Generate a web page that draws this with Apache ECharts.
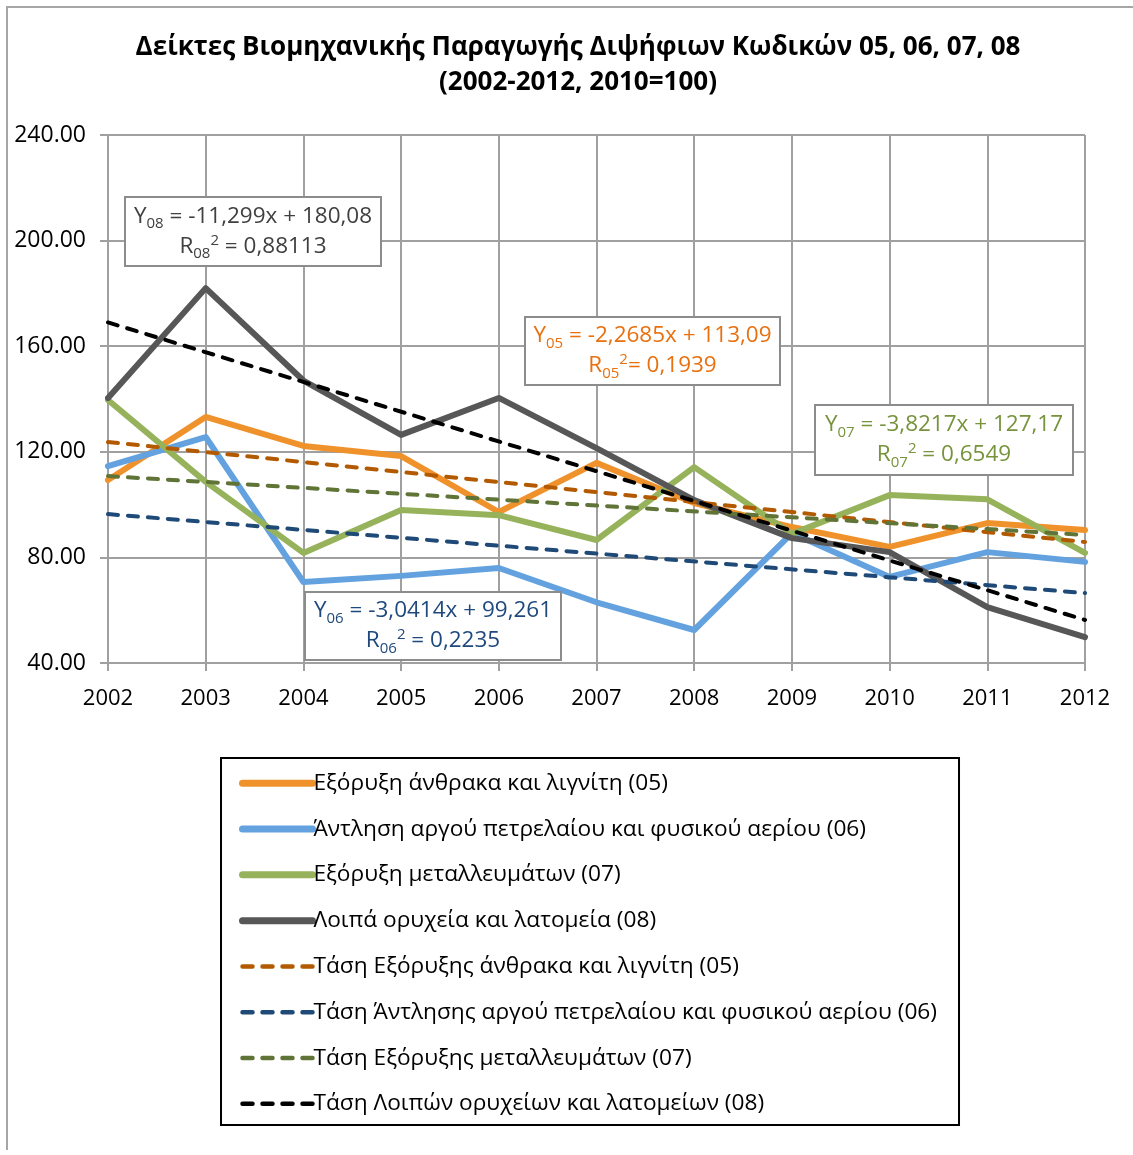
<!DOCTYPE html>
<html>
<head>
<meta charset="utf-8">
<script src="https://cdn.jsdelivr.net/npm/echarts@6/dist/echarts.min.js"></script>
<style>
  html, body { margin: 0; padding: 0; background: #fff; }
  #chart { width: 1133px; height: 1155px; }
</style>
</head>
<body>
<div id="chart"></div>
<script>
// έτη
var years = [2002, 2003, 2004, 2005, 2006, 2007, 2008, 2009, 2010, 2011, 2012];
// δείκτες (τιμές από το διάγραμμα)
var coal05  = [109.3, 133.2, 122.2, 118.4, 97.2, 115.8, 100.6, 91.5, 84.0, 93.0, 90.4];
var oil06   = [114.6, 125.6, 70.7, 73.0, 76.0, 63.0, 52.5, 89.2, 72.6, 82.0, 78.3];
var metal07 = [139.6, 108.6, 81.7, 98.0, 96.0, 86.6, 114.2, 88.9, 103.6, 102.0, 81.7];
var other08 = [140.4, 182.0, 147.0, 126.4, 140.4, 121.4, 101.7, 87.3, 82.0, 61.2, 49.8];
// γραμμές τάσης: τιμή στο 2002 και στο 2012
var trendYears = [2002, 2012];
var trend05 = [123.7, 85.8];
var trend06 = [96.4, 66.5];
var trend07 = [110.8, 88.5];
var trend08 = [169.0, 56.3];

var names = [
    'Εξόρυξη άνθρακα και λιγνίτη (05)',
    'Άντληση αργού πετρελαίου και φυσικού αερίου (06)',
    'Εξόρυξη μεταλλευμάτων (07)',
    'Λοιπά ορυχεία και λατομεία (08)',
    'Τάση Εξόρυξης άνθρακα και λιγνίτη (05)',
    'Τάση Άντλησης αργού πετρελαίου και φυσικού αερίου (06)',
    'Τάση Εξόρυξης μεταλλευμάτων (07)',
    'Τάση Λοιπών ορυχείων και λατομείων (08)'
];

var FONT = 'Open Sans';

function pairs(xs, ys) {
    return xs.map(function (x, i) { return [x, ys[i]]; });
}

function solid(name, data, color) {
    return {
        name: name, type: 'line', data: pairs(years, data),
        symbol: 'none', lineStyle: { color: color, width: 6, cap: 'round', join: 'round' },
        itemStyle: { color: color }, z: 2
    };
}
function dashed(name, data, color) {
    return {
        name: name, type: 'line', data: pairs(trendYears, data),
        symbol: 'none', lineStyle: { color: color, width: 4, type: [10, 10], cap: 'round' },
        itemStyle: { color: color }, z: 3
    };
}

// πλαίσιο εξίσωσης με δείκτες
function eqBox(x, y, w, h, color, l1, l2) {
    var m = { fontFamily: FONT, fontSize: 22.5, fill: color };
    var s = { fontFamily: FONT, fontSize: 15, fill: color, padding: [15, 0, 0, 0] };
    var p = { fontFamily: FONT, fontSize: 15, fill: color, padding: [0, 0, 12, 0] };
    return {
        type: 'group',
        children: [
            { type: 'rect', z: 100, shape: { x: x, y: y, width: w, height: h },
              style: { fill: '#fff', stroke: '#8c8c8c', lineWidth: 2 } },
            { type: 'text', z: 101, style: {
                x: x + w / 2, y: y + h / 2, text: l1 + '\n' + l2,
                align: 'center', verticalAlign: 'middle',
                fontFamily: FONT, fontSize: 22.5, fill: color,
                rich: { m: m, s: s, p: p } } }
        ]
    };
}

var chart = echarts.init(document.getElementById('chart'));
window.addEventListener('resize', function () { chart.resize(); });

var legendData = names.map(function (n, i) {
    return { name: n, lineStyle: i < 4 ? { width: 7 } : { width: 4.5 } };
});

var option = {
    backgroundColor: '#fff',
    animation: false,
    grid: { left: 108, right: 48, top: 135, bottom: 492 },
    xAxis: {
        type: 'value', min: 2002, max: 2012, interval: 1,
        axisLine: { show: true, lineStyle: { color: '#a0a0a0', width: 2 } },
        axisTick: { show: true, length: 8, lineStyle: { color: '#a0a0a0', width: 2 } },
        splitLine: { show: true, lineStyle: { color: '#a0a0a0', width: 2 } },
        axisLabel: { fontFamily: FONT, fontSize: 22, color: '#000', margin: 25,
            formatter: function (v) { return String(v); } }
    },
    yAxis: {
        type: 'value', min: 40, max: 240, interval: 40,
        axisLine: { show: true, lineStyle: { color: '#a0a0a0', width: 2 } },
        axisTick: { show: true, length: 8, lineStyle: { color: '#a0a0a0', width: 2 } },
        splitLine: { show: true, lineStyle: { color: '#a0a0a0', width: 2 } },
        axisLabel: { fontFamily: FONT, fontSize: 23, color: '#000', margin: 22,
            formatter: function (v) { return v.toFixed(2); } }
    },
    legend: {
        orient: 'vertical', left: 221, top: 758,
        padding: [13, 22, 9, 18], itemGap: 21.3,
        itemWidth: 70, itemHeight: 14,
        borderColor: '#000', borderWidth: 2,
        itemStyle: { opacity: 0 },
        textStyle: { fontFamily: FONT, fontSize: 22.7, color: '#000', lineHeight: 24.5, padding: [0, 0, 0, -4] },
        data: legendData
    },
    series: [
        solid(names[0], coal05, '#f0922c'),
        solid(names[1], oil06, '#63a2df'),
        solid(names[2], metal07, '#96b35c'),
        solid(names[3], other08, '#575757'),
        dashed(names[4], trend05, '#b35a00'),
        dashed(names[5], trend06, '#1f4a78'),
        dashed(names[6], trend07, '#5f7436'),
        dashed(names[7], trend08, '#000000')
    ],
    graphic: [
        { type: 'polyline', z: 100, shape: { points: [[7, 1150], [7, 7], [1133, 7]] },
          style: { stroke: '#a6a6a6', lineWidth: 2, fill: null } },
        { type: 'text', z: 100, style: {
            x: 578, y: 65, text: 'Δείκτες Βιομηχανικής Παραγωγής Διψήφιων Κωδικών 05, 06, 07, 08\n(2002-2012, 2010=100)',
            align: 'center', verticalAlign: 'middle', lineHeight: 35,
            fontFamily: FONT, fontWeight: 'bold', fontSize: 26, fill: '#000' } },
        eqBox(125, 197, 256, 69, '#404040',
            '{m|Y}{s|08}{m| = -11,299x + 180,08}', '{m|R}{s|08}{p|2}{m| = 0,88113}'),
        eqBox(525, 317, 255, 68, '#e8700f',
            '{m|Y}{s|05}{m| = -2,2685x + 113,09}', '{m|R}{s|05}{p|2}{m|= 0,1939}'),
        eqBox(815, 405, 258, 70, '#77933c',
            '{m|Y}{s|07}{m| = -3,8217x + 127,17}', '{m|R}{s|07}{p|2}{m| = 0,6549}'),
        eqBox(305, 592, 256, 68, '#1f497d',
            '{m|Y}{s|06}{m| = -3,0414x + 99,261}', '{m|R}{s|06}{p|2}{m| = 0,2235}')
    ]
};

chart.setOption(option);
</script>
</body>
</html>
